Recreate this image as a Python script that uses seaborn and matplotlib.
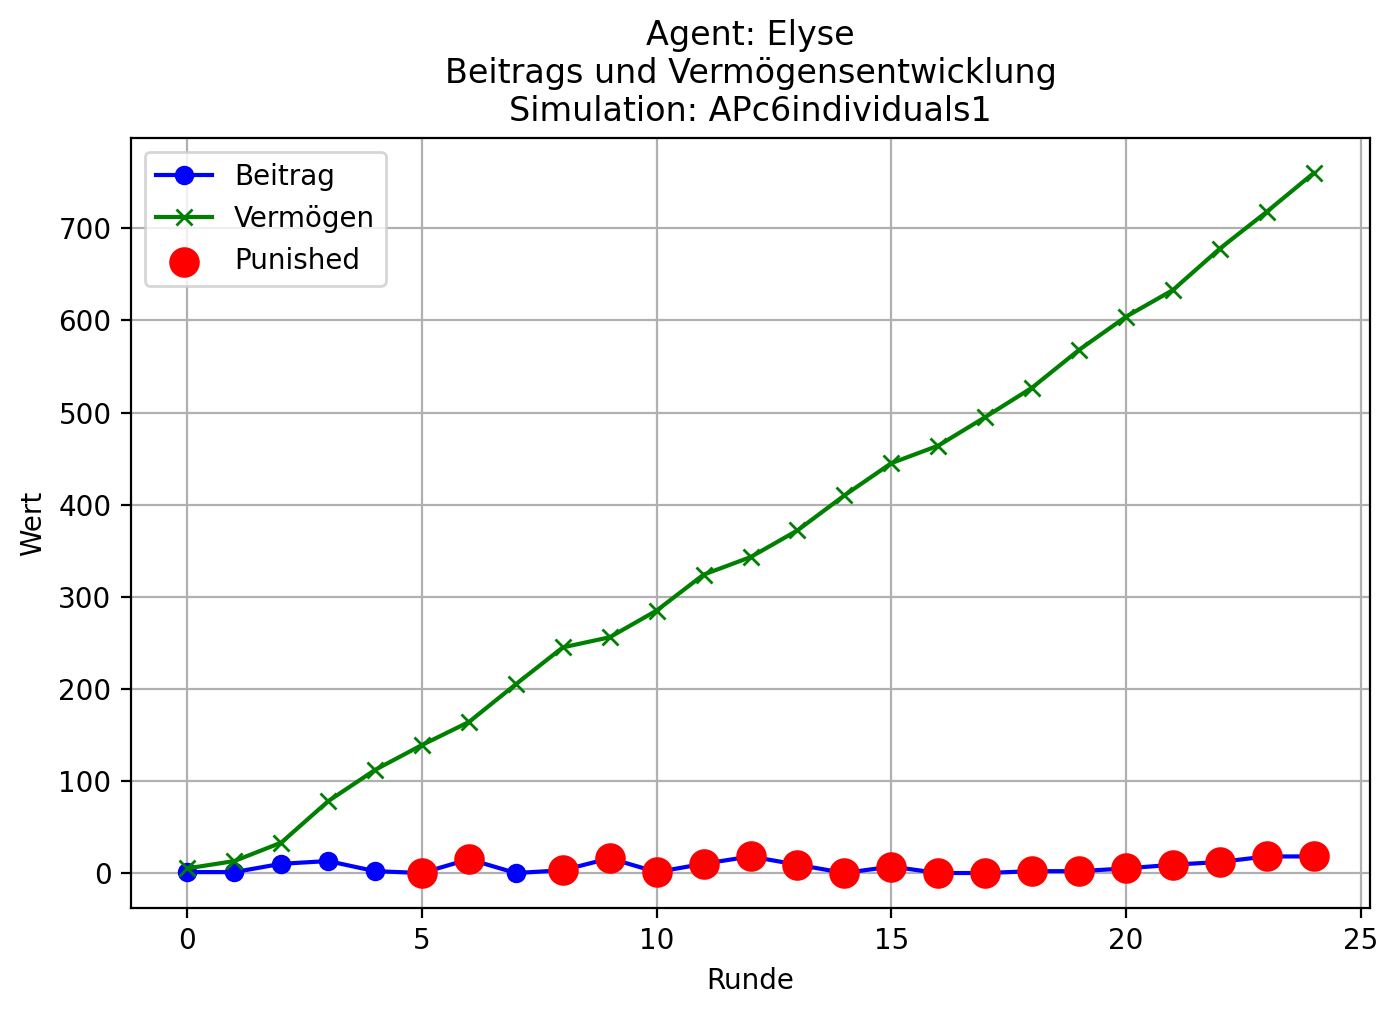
import matplotlib
matplotlib.use("Agg")
import matplotlib.pyplot as plt
import seaborn as sns

# Werte pro Runde
runden = list(range(25))
beitrag = [1, 1, 10, 13, 2, 0, 15, 0, 3, 16, 1, 10, 18, 9, 0, 7, 0, 0, 2, 2, 5, 9, 12, 18, 18]
vermoegen = [5, 13, 33, 78, 112, 139, 164, 205, 245, 256, 285, 324, 343, 372, 410,
             445, 464, 495, 527, 568, 604, 633, 678, 718, 760]
punished_runden = [5, 6, 8, 9, 10, 11, 12, 13, 14, 15, 16, 17, 18, 19, 20, 21, 22, 23, 24]

agent = "Elyse"
simulation = "APc6individuals1"

punished_werte = [beitrag[r] for r in punished_runden]

fig, ax = plt.subplots(figsize=(7, 5.075), dpi=200)

sns.lineplot(x=runden, y=beitrag, color="blue", marker="o", markersize=6,
             linewidth=1.5, markeredgewidth=1.0, markeredgecolor="blue",
             label="Beitrag", ax=ax)
sns.lineplot(x=runden, y=vermoegen, color="green", marker="x", markersize=6,
             linewidth=1.5, markeredgewidth=1.0, markeredgecolor="green",
             label="Vermögen", ax=ax)
sns.scatterplot(x=punished_runden, y=punished_werte, color="red", s=100,
                edgecolor="red", linewidth=1, label="Punished", ax=ax, zorder=3)

ax.set_title(f"Agent: {agent}\nBeitrags und Vermögensentwicklung\nSimulation: {simulation}")
ax.set_xlabel("Runde")
ax.set_ylabel("Wert")
ax.grid(True)
ax.legend(loc="upper left")

fig.subplots_adjust(left=0.0936, right=0.9786, top=0.864, bottom=0.1054)
plt.savefig("out.png", dpi=200)
plt.close()
